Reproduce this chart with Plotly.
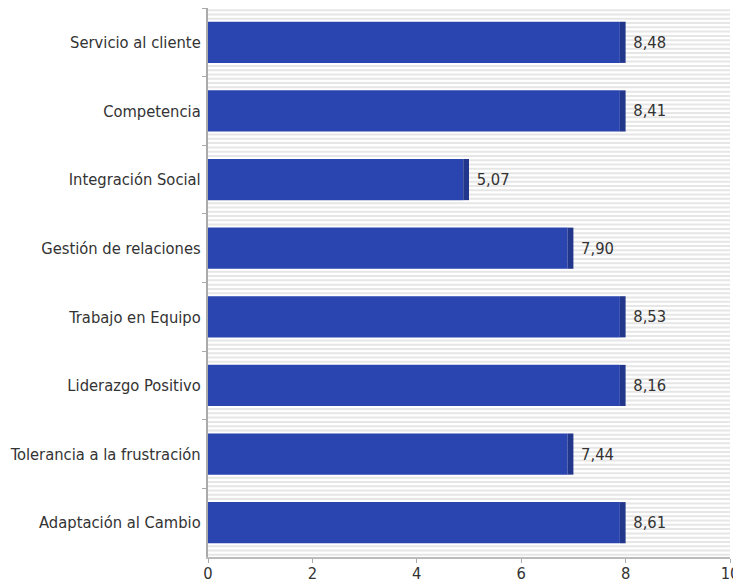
import plotly.graph_objects as go

categories = ["Servicio al cliente", "Competencia", "Integración Social", "Gestión de relaciones",
              "Trabajo en Equipo", "Liderazgo Positivo", "Tolerancia a la frustración", "Adaptación al Cambio"]
scores = [8.48, 8.41, 5.07, 7.90, 8.53, 8.16, 7.44, 8.61]
bar_lengths = [8, 8, 5, 7, 8, 8, 7, 8]
x_ticks = [0, 2, 4, 6, 8, 10]

labels = ["\u00a0" + f"{s:.2f}".replace(".", ",") for s in scores]
end_w = 0.11
FONT = "DejaVu Sans Condensed, DejaVu Sans"
FS = 16.4

fig = go.Figure()
fig.add_trace(go.Bar(
    y=categories, x=[b - end_w for b in bar_lengths], orientation="h",
    marker=dict(color="#2B45B0", line=dict(width=0)), width=0.6, hoverinfo="skip"))
fig.add_trace(go.Bar(
    y=categories, x=[end_w] * len(bar_lengths), base=[b - end_w for b in bar_lengths],
    orientation="h", marker=dict(color="#22378C", line=dict(width=0)), width=0.6,
    text=labels, textposition="outside", cliponaxis=False,
    textfont=dict(family=FONT, size=FS, color="#333333"), hoverinfo="skip"))

# striped background
shapes = []
n_lines = 128
for i in range(n_lines):
    yy = (i + 0.5) / n_lines
    shapes.append(dict(type="line", xref="paper", yref="paper", x0=0, x1=1, y0=yy, y1=yy,
                       line=dict(color="#E6E6E6", width=2), layer="below"))

fig.update_layout(
    width=733, height=578,
    margin=dict(l=200, r=11, t=0, b=29),
    barmode="overlay", showlegend=False,
    plot_bgcolor="white", paper_bgcolor="white",
    font=dict(family=FONT, size=FS, color="#333333"),
    shapes=shapes,
)
fig.update_xaxes(range=[0, 10], tickvals=x_ticks, ticks="outside", ticklen=4, tickcolor="#AAAAAA",
                 showgrid=False, zeroline=False, showline=True, linecolor="#BBBBBB", linewidth=2,
                 ticklabelstandoff=-4,
                 tickfont=dict(family=FONT, size=FS, color="#333333"), automargin=False)
fig.update_yaxes(type="category", autorange="reversed", ticks="outside", ticklen=4, tickcolor="#AAAAAA",
                 tickson="boundaries", showgrid=False, zeroline=False, showline=True,
                 linecolor="#AAAAAA", linewidth=2, ticklabelstandoff=2, automargin=False,
                 tickfont=dict(family=FONT, size=FS, color="#333333"))

fig.write_html("out.html")
